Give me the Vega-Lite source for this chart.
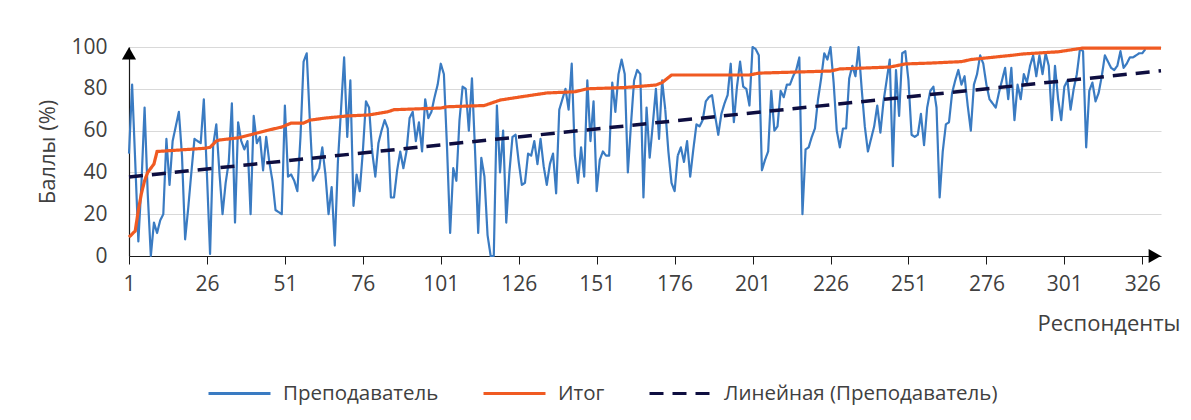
{
  "$schema": "https://vega.github.io/schema/vega-lite/v6.json",
  "width": 1032,
  "height": 209,
  "autosize": "none",
  "padding": {"left": 129, "top": 47, "right": 30, "bottom": 164},
  "background": "white",
  "config": {
    "view": {"stroke": null},
    "font": "Open Sans",
    "legend": {
      "orient": "none",
      "legendX": 78,
      "legendY": 314,
      "direction": "horizontal",
      "symbolType": "stroke",
      "symbolSize": 3844,
      "symbolStrokeWidth": 3,
      "labelFontSize": 20.5,
      "labelColor": "#404040",
      "labelFont": "Open Sans",
      "labelLimit": 0,
      "columnPadding": 38,
      "labelOffset": 11,
      "title": null
    }
  },
  "datasets": {
    "teacher": [
      {"r":1,"v":49},{"r":2,"v":82},{"r":3,"v":45},{"r":4,"v":7},{"r":5,"v":35},{"r":6,"v":71},{"r":7,"v":30},{"r":8,"v":0},{"r":9,"v":16},{"r":10,"v":11},
      {"r":11,"v":17},{"r":12,"v":20},{"r":13,"v":56},{"r":14,"v":34},{"r":15,"v":55},{"r":16,"v":62},{"r":17,"v":69},{"r":18,"v":48},{"r":19,"v":8},{"r":20,"v":23},
      {"r":21,"v":40},{"r":22,"v":56},{"r":23,"v":55},{"r":24,"v":54},{"r":25,"v":75},{"r":26,"v":39},{"r":27,"v":1},{"r":28,"v":53},{"r":29,"v":63},{"r":30,"v":40},
      {"r":31,"v":20},{"r":32,"v":35},{"r":33,"v":45},{"r":34,"v":73},{"r":35,"v":16},{"r":36,"v":64},{"r":37,"v":55},{"r":38,"v":51},{"r":39,"v":55},{"r":40,"v":20},
      {"r":41,"v":67},{"r":42,"v":54},{"r":43,"v":57},{"r":44,"v":41},{"r":45,"v":57},{"r":46,"v":45},{"r":47,"v":36},{"r":48,"v":22},{"r":49,"v":21},{"r":50,"v":20},
      {"r":51,"v":72},{"r":52,"v":38},{"r":53,"v":39},{"r":54,"v":36},{"r":55,"v":31},{"r":56,"v":57},{"r":57,"v":93},{"r":58,"v":97},{"r":59,"v":65},{"r":60,"v":36},
      {"r":61,"v":39},{"r":62,"v":42},{"r":63,"v":52},{"r":64,"v":39},{"r":65,"v":20},{"r":66,"v":33},{"r":67,"v":5},{"r":68,"v":45},{"r":69,"v":70},{"r":70,"v":95},
      {"r":71,"v":57},{"r":72,"v":84},{"r":73,"v":24},{"r":74,"v":39},{"r":75,"v":31},{"r":76,"v":50},{"r":77,"v":74},{"r":78,"v":71},{"r":79,"v":50},{"r":80,"v":38},
      {"r":81,"v":54},{"r":82,"v":60},{"r":83,"v":65},{"r":84,"v":61},{"r":85,"v":28},{"r":86,"v":28},{"r":87,"v":41},{"r":88,"v":50},{"r":89,"v":42},{"r":90,"v":50},
      {"r":91,"v":66},{"r":92,"v":69},{"r":93,"v":55},{"r":94,"v":64},{"r":95,"v":50},{"r":96,"v":75},{"r":97,"v":66},{"r":98,"v":69},{"r":99,"v":76},{"r":100,"v":82},
      {"r":101,"v":92},{"r":102,"v":87},{"r":103,"v":52},{"r":104,"v":11},{"r":105,"v":42},{"r":106,"v":36},{"r":107,"v":65},{"r":108,"v":81},{"r":109,"v":80},{"r":110,"v":60},
      {"r":111,"v":85},{"r":112,"v":50},{"r":113,"v":11},{"r":114,"v":47},{"r":115,"v":38},{"r":116,"v":10},{"r":117,"v":0},{"r":118,"v":0},{"r":119,"v":72},{"r":120,"v":40},
      {"r":121,"v":60},{"r":122,"v":16},{"r":123,"v":40},{"r":124,"v":57},{"r":125,"v":58},{"r":126,"v":45},{"r":127,"v":34},{"r":128,"v":35},{"r":129,"v":49},{"r":130,"v":48},
      {"r":131,"v":55},{"r":132,"v":44},{"r":133,"v":56},{"r":134,"v":43},{"r":135,"v":34},{"r":136,"v":44},{"r":137,"v":49},{"r":138,"v":30},{"r":139,"v":70},{"r":140,"v":75},
      {"r":141,"v":80},{"r":142,"v":70},{"r":143,"v":92},{"r":144,"v":48},{"r":145,"v":35},{"r":146,"v":52},{"r":147,"v":38},{"r":148,"v":84},{"r":149,"v":55},{"r":150,"v":74},
      {"r":151,"v":31},{"r":152,"v":46},{"r":153,"v":50},{"r":154,"v":48},{"r":155,"v":48},{"r":156,"v":83},{"r":157,"v":69},{"r":158,"v":87},{"r":159,"v":94},{"r":160,"v":87},
      {"r":161,"v":40},{"r":162,"v":63},{"r":163,"v":84},{"r":164,"v":89},{"r":165,"v":87},{"r":166,"v":28},{"r":167,"v":71},{"r":168,"v":47},{"r":169,"v":63},{"r":170,"v":80},
      {"r":171,"v":56},{"r":172,"v":84},{"r":173,"v":70},{"r":174,"v":50},{"r":175,"v":35},{"r":176,"v":31},{"r":177,"v":48},{"r":178,"v":52},{"r":179,"v":45},{"r":180,"v":55},
      {"r":181,"v":38},{"r":182,"v":51},{"r":183,"v":63},{"r":184,"v":62},{"r":185,"v":65},{"r":186,"v":74},{"r":187,"v":76},{"r":188,"v":77},{"r":189,"v":67},{"r":190,"v":58},
      {"r":191,"v":68},{"r":192,"v":73},{"r":193,"v":77},{"r":194,"v":92},{"r":195,"v":64},{"r":196,"v":81},{"r":197,"v":93},{"r":198,"v":81},{"r":199,"v":80},{"r":200,"v":72},
      {"r":201,"v":100},{"r":202,"v":99},{"r":203,"v":96},{"r":204,"v":41},{"r":205,"v":46},{"r":206,"v":50},{"r":207,"v":79},{"r":208,"v":60},{"r":209,"v":62},{"r":210,"v":79},
      {"r":211,"v":76},{"r":212,"v":82},{"r":213,"v":82},{"r":214,"v":86},{"r":215,"v":89},{"r":216,"v":95},{"r":217,"v":20},{"r":218,"v":51},{"r":219,"v":52},{"r":220,"v":57},
      {"r":221,"v":61},{"r":222,"v":75},{"r":223,"v":85},{"r":224,"v":97},{"r":225,"v":94},{"r":226,"v":100},{"r":227,"v":83},{"r":228,"v":60},{"r":229,"v":52},{"r":230,"v":61},
      {"r":231,"v":61},{"r":232,"v":85},{"r":233,"v":91},{"r":234,"v":86},{"r":235,"v":100},{"r":236,"v":80},{"r":237,"v":62},{"r":238,"v":50},{"r":239,"v":56},{"r":240,"v":62},
      {"r":241,"v":72},{"r":242,"v":59},{"r":243,"v":74},{"r":244,"v":84},{"r":245,"v":94},{"r":246,"v":43},{"r":247,"v":89},{"r":248,"v":67},{"r":249,"v":97},{"r":250,"v":98},
      {"r":251,"v":84},{"r":252,"v":58},{"r":253,"v":57},{"r":254,"v":58},{"r":255,"v":68},{"r":256,"v":53},{"r":257,"v":71},{"r":258,"v":79},{"r":259,"v":81},{"r":260,"v":71},
      {"r":261,"v":28},{"r":262,"v":50},{"r":263,"v":63},{"r":264,"v":64},{"r":265,"v":78},{"r":266,"v":84},{"r":267,"v":89},{"r":268,"v":82},{"r":269,"v":86},{"r":270,"v":72},
      {"r":271,"v":60},{"r":272,"v":82},{"r":273,"v":87},{"r":274,"v":96},{"r":275,"v":92},{"r":276,"v":82},{"r":277,"v":75},{"r":278,"v":73},{"r":279,"v":71},{"r":280,"v":78},
      {"r":281,"v":84},{"r":282,"v":90},{"r":283,"v":75},{"r":284,"v":90},{"r":285,"v":65},{"r":286,"v":82},{"r":287,"v":75},{"r":288,"v":87},{"r":289,"v":83},{"r":290,"v":91},
      {"r":291,"v":96},{"r":292,"v":86},{"r":293,"v":96},{"r":294,"v":87},{"r":295,"v":97},{"r":296,"v":91},{"r":297,"v":65},{"r":298,"v":91},{"r":299,"v":75},{"r":300,"v":65},
      {"r":301,"v":81},{"r":302,"v":84},{"r":303,"v":70},{"r":304,"v":80},{"r":305,"v":87},{"r":306,"v":99},{"r":307,"v":98},{"r":308,"v":52},{"r":309,"v":79},{"r":310,"v":83},
      {"r":311,"v":74},{"r":312,"v":78},{"r":313,"v":86},{"r":314,"v":96},{"r":315,"v":93},{"r":316,"v":90},{"r":317,"v":89},{"r":318,"v":91},{"r":319,"v":98},{"r":320,"v":90},
      {"r":321,"v":92},{"r":322,"v":95},{"r":323,"v":95},{"r":324,"v":96},{"r":325,"v":97},{"r":326,"v":97},{"r":327,"v":99}
    ],
    "total": [
      {"r":1,"v":9},{"r":3,"v":12},{"r":4,"v":22},{"r":5,"v":30},{"r":6,"v":36},{"r":7,"v":40},{"r":8,"v":42},{"r":9,"v":44},{"r":10,"v":50},
      {"r":25,"v":51.5},{"r":27,"v":52},{"r":29,"v":55},{"r":30,"v":55.5},{"r":36,"v":56.5},{"r":40,"v":58},{"r":45,"v":60},{"r":50,"v":61.7},
      {"r":53,"v":63.6},{"r":57,"v":63.6},{"r":59,"v":65},{"r":64,"v":66},{"r":71,"v":67},{"r":78,"v":67.5},{"r":84,"v":69},{"r":86,"v":70},
      {"r":101,"v":70.8},{"r":103,"v":71.4},{"r":115,"v":72},{"r":120,"v":74.6},{"r":126,"v":76},{"r":135,"v":78},{"r":144,"v":78.6},{"r":148,"v":80},
      {"r":160,"v":80.6},{"r":170,"v":81.8},{"r":172,"v":83},{"r":175,"v":86.6},{"r":200,"v":86.6},{"r":203,"v":87.5},{"r":226,"v":88.5},{"r":229,"v":89.5},
      {"r":245,"v":90.4},{"r":250,"v":91.9},{"r":258,"v":92.3},{"r":268,"v":93},{"r":271,"v":94},{"r":284,"v":96},{"r":288,"v":96.7},{"r":299,"v":97.7},
      {"r":307,"v":99.5},{"r":332,"v":99.5}
    ],
    "trend": [{"r":1,"v":37.8},{"r":332,"v":88.6}],
    "yarrow": [{"r":1,"v":97}],
    "xarrow": [{"r":330,"v":0}]
  },
  "encoding": {
    "x": {
      "field": "r", "type": "quantitative",
      "scale": {"domain": [1, 332], "nice": false, "zero": false},
      "axis": {
        "values": [1,26,51,76,101,126,151,176,201,226,251,276,301,326],
        "grid": false, "labelFlush": false, "labelOverlap": false,
        "domainColor": "#1a1a1a", "domainWidth": 1.2,
        "tickColor": "#1a1a1a", "tickSize": 8,
        "labelFontSize": 21, "labelColor": "#404040", "labelPadding": 9,
        "title": "Респонденты", "titleFontSize": 22, "titleFontWeight": "normal", "titleColor": "#404040",
        "titleX": 1051, "titleY": 67, "titleAlign": "right", "titleBaseline": "middle", "titleAnchor": "end"
      }
    },
    "y": {
      "field": "v", "type": "quantitative",
      "scale": {"domain": [0, 100], "nice": false},
      "axis": {
        "values": [0,20,40,60,80,100],
        "grid": true, "gridColor": "#d9d9d9", "gridWidth": 1,
        "ticks": false, "labelPadding": 22,
        "domainColor": "#1a1a1a", "domainWidth": 1.2,
        "labelFontSize": 21, "labelColor": "#404040",
        "title": "Баллы (%)", "titleFontSize": 22, "titleFontWeight": "normal", "titleColor": "#404040",
        "titlePadding": 11
      }
    }
  },
  "layer": [
    {
      "data": {"name": "teacher"},
      "mark": {"type": "line", "strokeWidth": 2.2, "strokeJoin": "round"},
      "encoding": {
        "color": {"datum": "Преподаватель", "scale": {"domain": ["Преподаватель", "Итог", "Линейная (Преподаватель)"], "range": ["#3A7BC2", "#F05A22", "#0E0E40"]}},
        "strokeDash": {"datum": "Преподаватель", "scale": {"domain": ["Преподаватель", "Итог", "Линейная (Преподаватель)"], "range": [[1,0],[1,0],[14,9]]}}
      }
    },
    {
      "data": {"name": "total"},
      "mark": {"type": "line", "strokeWidth": 3.2},
      "encoding": {
        "color": {"datum": "Итог"},
        "strokeDash": {"datum": "Итог"}
      }
    },
    {
      "data": {"name": "trend"},
      "mark": {"type": "line", "strokeWidth": 3.5},
      "encoding": {
        "color": {"datum": "Линейная (Преподаватель)"},
        "strokeDash": {"datum": "Линейная (Преподаватель)"}
      }
    },
    {
      "data": {"name": "yarrow"},
      "mark": {"type": "point", "shape": "triangle-up", "filled": true, "color": "#000000", "size": 200, "opacity": 1}
    },
    {
      "data": {"name": "xarrow"},
      "mark": {"type": "point", "shape": "triangle-right", "filled": true, "color": "#000000", "size": 200, "opacity": 1}
    }
  ]
}
